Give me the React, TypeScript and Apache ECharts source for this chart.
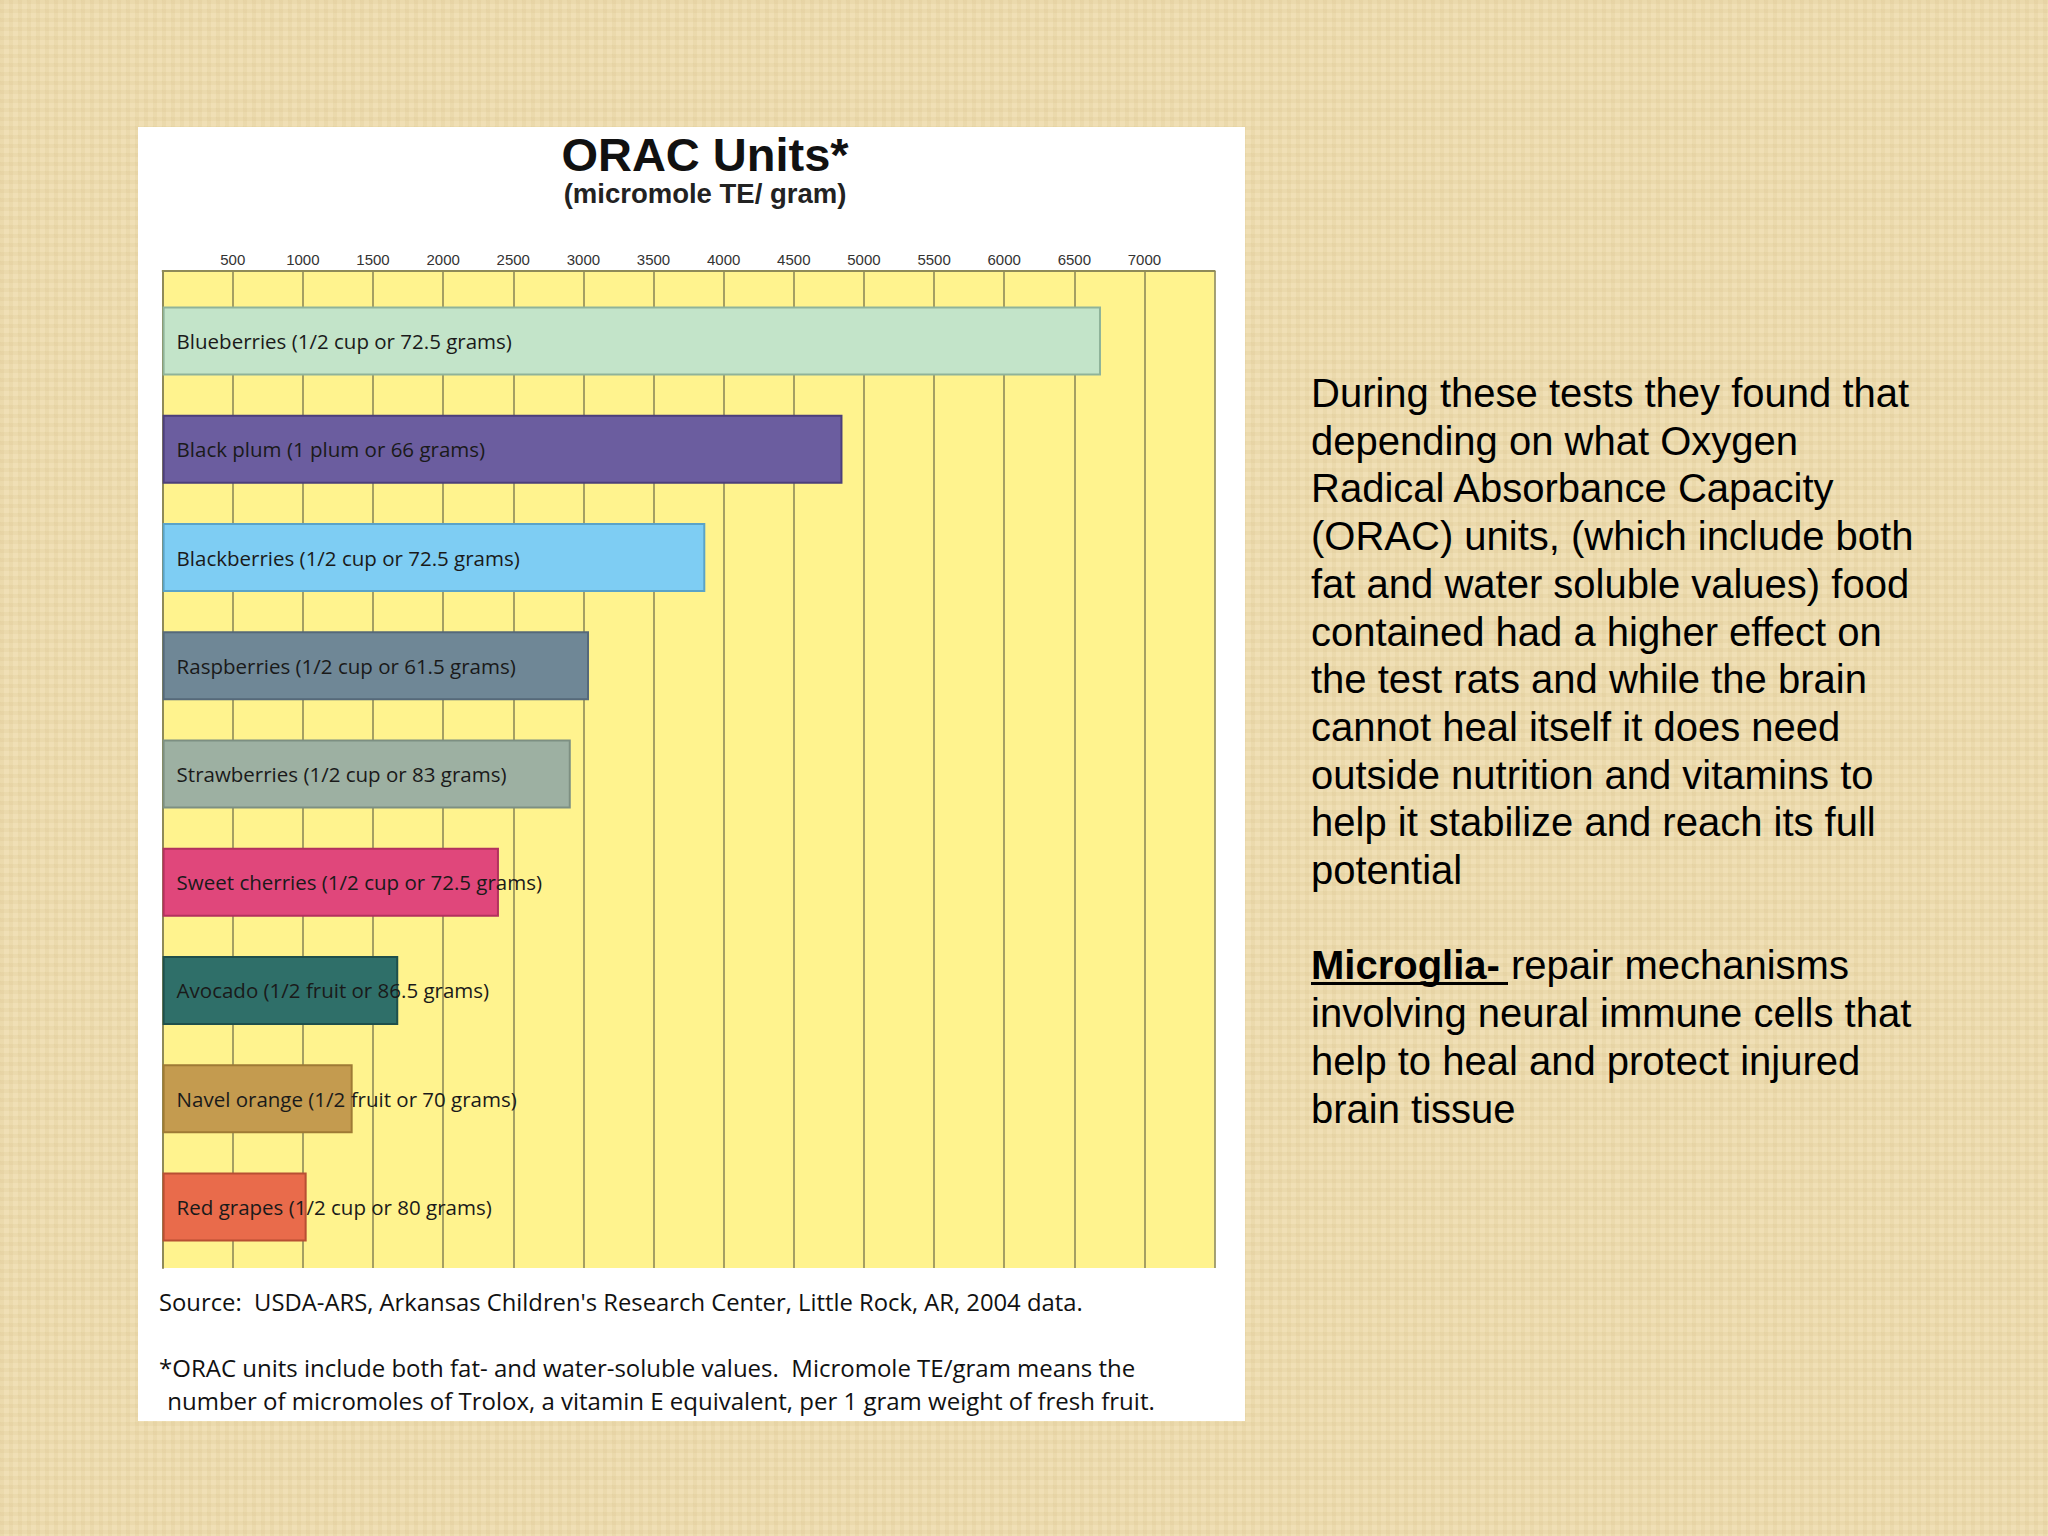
import React, { useEffect, useRef } from "react";
import * as echarts from "echarts";

const categories = [
  "Blueberries (1/2 cup or 72.5 grams)",
  "Black plum (1 plum or 66 grams)",
  "Blackberries (1/2 cup or 72.5 grams)",
  "Raspberries (1/2 cup or 61.5 grams)",
  "Strawberries (1/2 cup or 83 grams)",
  "Sweet cherries (1/2 cup or 72.5 grams)",
  "Avocado (1/2 fruit or 86.5 grams)",
  "Navel orange (1/2 fruit or 70 grams)",
  "Red grapes (1/2 cup or 80 grams)",
];
const oracValues = [6690, 4847, 3869, 3040, 2910, 2398, 1680, 1355, 1027];
const barColors = ["#C3E4C9", "#6B5D9F", "#7ECDF3", "#6F8796", "#9DB0A2", "#E0477B", "#2F6F69", "#C49B4F", "#E96B4B"];
const barBorders = ["#8FB39A", "#4C3F7A", "#5AA3C8", "#56697A", "#7D8F82", "#B2315E", "#1F4F4B", "#9E7A35", "#B84F33"];
const axisMax = 7500;
const tickInterval = 500;

const titleText = "ORAC Units*";
const subtitleText = "(micromole TE/ gram)";
const sourceText = "Source:  USDA-ARS, Arkansas Children's Research Center, Little Rock, AR, 2004 data.";
const footnoteLines = [
  "*ORAC units include both fat- and water-soluble values.  Micromole TE/gram means the",
  " number of micromoles of Trolox, a vitamin E equivalent, per 1 gram weight of fresh fruit.",
];
const paragraphLines = [
  "During these tests they found that",
  "depending on what Oxygen",
  "Radical Absorbance Capacity",
  "(ORAC) units, (which include both",
  "fat and water soluble values) food",
  "contained had a higher effect on",
  "the test rats and while the brain",
  "cannot heal itself it does need",
  "outside nutrition and vitamins to",
  "help it stabilize and reach its full",
  "potential",
];
const microgliaTerm = "Microglia- ";
const microgliaLines = [
  "repair mechanisms",
  "involving neural immune cells that",
  "help to heal and protect injured",
  "brain tissue",
];

export default function App() {
  const ref = useRef<HTMLDivElement>(null);
  useEffect(() => {
    if (!ref.current) return;
    const chart = echarts.init(ref.current, null, { renderer: "svg" });
    const gridColor = "#8E8A58";
    const plotLeft = 162.6;
    const plotWidth = 1052;
    const lineH = 47.7;
    const rightX = 1311;
    const firstY = 393;
    const smallFont = "'Open Sans', sans-serif";
    const graphics: any[] = [
      { type: "rect", z: -100, shape: { x: 138, y: 127, width: 1107, height: 1294 }, style: { fill: "#ffffff" } },
      { type: "text", x: 705, y: 154, style: { text: titleText, align: "center", verticalAlign: "middle", font: "bold 47px 'Liberation Sans', Arial, sans-serif", fill: "#111" } },
      { type: "text", x: 705, y: 193, style: { text: subtitleText, align: "center", verticalAlign: "middle", font: "bold 27.5px 'Liberation Sans', Arial, sans-serif", fill: "#222" } },
      { type: "text", x: 159, y: 1302, style: { text: sourceText, align: "left", verticalAlign: "middle", font: "23.8px " + smallFont, fill: "#111" } },
      { type: "text", x: 159, y: 1367, style: { text: footnoteLines[0], align: "left", verticalAlign: "middle", font: "24px " + smallFont, fill: "#111" } },
      { type: "text", x: 161, y: 1400, style: { text: footnoteLines[1], align: "left", verticalAlign: "middle", font: "24px " + smallFont, fill: "#111" } },
    ];
    paragraphLines.forEach((t, i) => {
      graphics.push({ type: "text", x: rightX, y: firstY + i * lineH, style: { text: t, align: "left", verticalAlign: "middle", font: "40px 'Liberation Sans', Arial, sans-serif", fill: "#000" } });
    });
    const mY = firstY + 12 * lineH;
    graphics.push({
      type: "text", x: rightX, y: mY,
      style: {
        text: "{b|" + microgliaTerm + "}{n|" + microgliaLines[0] + "}",
        align: "left", verticalAlign: "middle",
        rich: {
          b: { font: "bold 40px 'Liberation Sans', Arial, sans-serif", fill: "#000", color: "#000" },
          n: { font: "40px 'Liberation Sans', Arial, sans-serif", fill: "#000", color: "#000" },
        },
      },
    });
    graphics.push({ type: "line", shape: { x1: rightX, y1: mY + 18, x2: 1508, y2: mY + 18 }, style: { stroke: "#000", lineWidth: 3 } });
    microgliaLines.slice(1).forEach((t, i) => {
      graphics.push({ type: "text", x: rightX, y: mY + (i + 1) * lineH, style: { text: t, align: "left", verticalAlign: "middle", font: "40px 'Liberation Sans', Arial, sans-serif", fill: "#000" } });
    });

    chart.setOption({
      animation: false,
      backgroundColor: "transparent",
      grid: [
        { left: plotLeft, top: 271, width: plotWidth, height: 997, show: true, backgroundColor: "#FFF38E", borderWidth: 0 },
        { left: plotLeft, top: 287, width: plotWidth, height: 974 },
      ],
      xAxis: [
        {
          gridIndex: 0, type: "value", position: "top", min: 0, max: axisMax, interval: tickInterval,
          axisLine: { show: true, onZero: false, lineStyle: { color: gridColor, width: 2 } },
          axisTick: { show: false },
          axisLabel: {
            show: true, margin: 4, fontSize: 15, color: "#333", fontFamily: "'Liberation Sans Narrow', 'Liberation Sans', sans-serif",
            formatter: (v: number) => (v === 0 || v >= axisMax ? "" : String(v)),
          },
          splitLine: { show: true, lineStyle: { color: gridColor, width: 1.6 } },
        },
        { gridIndex: 1, type: "value", min: 0, max: axisMax, show: false },
      ],
      yAxis: [
        {
          gridIndex: 0, type: "value", min: 0, max: 1,
          axisLine: { show: true, onZero: false, lineStyle: { color: gridColor, width: 2 } },
          axisTick: { show: false }, axisLabel: { show: false }, splitLine: { show: false },
        },
        { gridIndex: 1, type: "category", data: categories, inverse: true, show: false },
      ],
      series: [
        {
          type: "bar", xAxisIndex: 1, yAxisIndex: 1, barWidth: 69,
          data: oracValues.map((v, i) => ({ value: v, itemStyle: { color: barColors[i], borderColor: barBorders[i], borderWidth: 2 } })),
          label: {
            show: true, formatter: "{b}", position: "insideLeft", distance: 14,
            fontSize: 20.5, fontFamily: smallFont, color: "#1a1a1a",
          },
        },
      ],
      graphic: graphics,
    });
    return () => chart.dispose();
  }, []);
  return (
    <div
      style={{
        position: "fixed", left: 0, top: 0, width: 2048, height: 1536,
        backgroundColor: "#F0DFB5",
        backgroundImage:
          "linear-gradient(90deg, rgba(205,180,120,0.14) 50%, rgba(0,0,0,0) 50%), linear-gradient(rgba(205,180,120,0.14) 50%, rgba(0,0,0,0) 50%)",
        backgroundSize: "9px 9px",
      }}
    >
      <div ref={ref} style={{ width: 2048, height: 1536 }} />
    </div>
  );
}
